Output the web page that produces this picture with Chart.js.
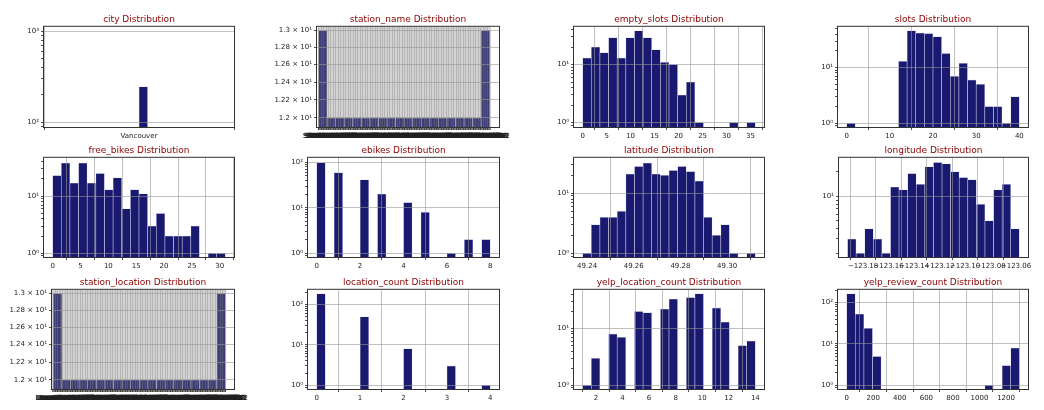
<!DOCTYPE html>
<html>
<head>
<meta charset="utf-8">
<script src="https://cdn.jsdelivr.net/npm/chart.js@4.4.1/dist/chart.umd.min.js"></script>
<style>
  body { margin: 0; background: #fff; }
  #wrap { position: relative; width: 1044px; height: 410px; overflow: hidden; background: #fff; }
  canvas { position: absolute; }
</style>
</head>
<body>
<div id="wrap"></div>
<script>
/* global Chart */
// histogram counts per bin (20 bins each)
const cityLabels = ["Vancouver"];
const cityRange = [-0.5, 0.5];
const cityCounts = [0,0,0,0,0,0,0,0,0,0,245,0,0,0,0,0,0,0,0,0];

const stationCount = 242;
const stationRange = [0, 241];
const stationNameCounts = [13,12,12,12,12,12,12,12,12,12,12,12,12,12,12,12,12,12,12,13];
const stationLocationCounts = [13,12,12,12,12,12,12,12,12,12,12,12,12,12,12,12,12,12,12,13];

const emptySlotsRange = [0, 36];
const emptySlotsCounts = [13,20,16,29,13,29,38,29,18,11,10,3,5,1,0,0,0,1,0,1];

const slotsRange = [0, 40];
const slotsCounts = [1,0,0,0,0,0,13,46,42,41,36,18,7,12,6,5,2,2,1,3];

const freeBikesRange = [0, 31];
const freeBikesCounts = [23,38,17,38,17,25,13,21,6,13,11,3,5,2,2,2,3,0,1,1];

const ebikesRange = [0, 8];
const ebikesCounts = [97,0,59,0,0,41,0,20,0,0,13,0,8,0,0,1,0,2,0,2];

const latitudeRange = [49.2381, 49.3121];
const latitudeCounts = [1,3,4,4,5,21,28,32,21,20,24,28,23,16,4,2,3,1,0,1];

const longitudeRange = [-123.1922, -123.0574];
const longitudeCounts = [3,2,4,3,2,13,12,19,14,23,26,25,20,17,16,8,5,12,14,4];

const locationCountRange = [0, 4];
const locationCountCounts = [181,0,0,0,0,49,0,0,0,0,8,0,0,0,0,3,0,0,0,1];

const yelpLocationRange = [1, 14];
const yelpLocationCounts = [1,3,0,8,7,0,20,19,0,22,33,0,35,41,0,23,13,0,5,6];

const yelpReviewRange = [0, 1300];
const yelpReviewCounts = [163,53,24,5,0,0,0,0,0,0,0,0,0,0,0,0,1,0,3,8];

// tick values
const emptySlotsTicks = [0, 5, 10, 15, 20, 25, 30, 35];
const slotsTicks = [0, 10, 20, 30, 40];
const freeBikesTicks = [0, 5, 10, 15, 20, 25, 30];
const ebikesTicks = [0, 2, 4, 6, 8];
const latitudeTicks = [49.24, 49.26, 49.28, 49.30];
const longitudeTicks = [-123.18, -123.16, -123.14, -123.12, -123.10, -123.08, -123.06];
const locationCountTicks = [0, 1, 2, 3, 4];
const yelpLocationTicks = [2, 4, 6, 8, 10, 12, 14];
const yelpReviewTicks = [0, 200, 400, 600, 800, 1000, 1200];
const stationYTicks = [12, 12.2, 12.4, 12.6, 12.8, 13];

// station names / locations are unreadable in the picture (overlapping labels)
const stationIdx = Array.from({ length: stationCount }, (_, i) => i);
const stationNameLabels = stationIdx.map((i) => "Station " + (i + 1));
const stationLocationLabels = stationIdx.map((i) => "Location " + (i + 1));

const BAR = "#191970";
const EDGE = "rgba(205,205,235,0.75)";
const GRID = "rgba(150,150,150,0.75)";
const FONT = "'DejaVu Sans', sans-serif";
const TITLE_H = 14;
const X_H = 20;

const wrap = document.getElementById("wrap");

function binPoints(range, counts) {
  const w = (range[1] - range[0]) / counts.length;
  return counts.map((c, i) => ({ x: range[0] + (i + 0.5) * w, y: c > 0 ? c : null }));
}

const SUP = { "0": "⁰", "1": "¹", "2": "²", "3": "³", "4": "⁴", "5": "⁵", "-": "⁻" };
function pow10Label(v) {
  const e = Math.round(Math.log10(v));
  return "10" + String(e).split("").map((ch) => SUP[ch]).join("");
}

function logTicks(min, max) {
  const out = [];
  for (let e = Math.floor(Math.log10(min)); e <= Math.ceil(Math.log10(max)); e++) {
    for (let m = 1; m <= 9; m++) {
      const v = m * Math.pow(10, e);
      if (v >= min && v <= max) out.push(v);
    }
  }
  return out;
}
function isDecade(v) {
  const l = Math.log10(v);
  return Math.abs(l - Math.round(l)) < 1e-9;
}

const frame = {
  id: "frame",
  afterDraw(chart) {
    const { ctx, chartArea: a } = chart;
    ctx.save();
    ctx.strokeStyle = "#333";
    ctx.lineWidth = 1;
    ctx.strokeRect(a.left - 0.5, a.top - 0.5, a.right - a.left + 1, a.bottom - a.top + 1);
    ctx.restore();
  },
};

// visible x axis (ticks, labels, grid)
function xAxis(p) {
  return {
    type: "linear",
    position: "bottom",
    min: p.xMin,
    max: p.xMax,
    offset: false,
    border: { display: false },
    grid: {
      color: p.xGrid || GRID,
      lineWidth: p.xGridWidth || 0.8,
      z: 1,
      tickColor: "#222",
      tickLength: 3,
    },
    ticks: {
      autoSkip: false,
      maxRotation: 0,
      minRotation: 0,
      padding: 2,
      color: "#222",
      font: { family: FONT, size: 7 },
      callback: (v, i) => p.xLabel(v, i),
    },
    afterBuildTicks: (s) => {
      s.ticks = p.xTicks.map((v) => ({ value: v }));
    },
    afterFit: (s) => {
      s.height = X_H;
      s.paddingLeft = 0;
      s.paddingRight = 0;
    },
  };
}

function panel(p) {
  const c = document.createElement("canvas");
  const w = p.yW + (p.R - p.L) + p.padR;
  const h = TITLE_H + (p.B - p.T) + X_H;
  c.width = w;
  c.height = h;
  c.style.left = p.L - p.yW + "px";
  c.style.top = p.T - TITLE_H + "px";
  wrap.appendChild(c);

  const yTicks = p.yTicks || logTicks(p.yMin, p.yMax);
  const yMajor = p.yTicks ? () => true : isDecade;
  const yLabel = p.yLabel || ((v) => (isDecade(v) ? pow10Label(v) : ""));

  const scales = {};
  if (p.dense) {
    // hidden data axis so bar widths follow the bins, dense ticks go on x2
    scales.x = {
      type: "linear",
      display: false,
      min: p.xMin,
      max: p.xMax,
      offset: false,
      afterBuildTicks: (s) => {
        s.ticks = [{ value: p.xMin }];
      },
    };
    scales.x2 = xAxis(p);
  } else {
    scales.x = xAxis(p);
  }
  scales.y = {
    type: "logarithmic",
    min: p.yMin,
    max: p.yMax,
    border: { display: false },
    grid: {
      z: 1,
      lineWidth: 0.8,
      tickLength: 3,
      tickColor: "#222",
      color: (ctx) => (ctx.tick && yMajor(ctx.tick.value) ? GRID : "rgba(0,0,0,0)"),
    },
    ticks: {
      autoSkip: false,
      padding: 2,
      color: "#222",
      font: { family: FONT, size: 7 },
      callback: (v) => yLabel(v),
    },
    afterBuildTicks: (s) => {
      s.ticks = yTicks.map((v) => ({ value: v }));
    },
    afterFit: (s) => {
      s.width = p.yW;
      s.paddingTop = 0;
      s.paddingBottom = 0;
    },
  };

  new Chart(c, {
    type: "bar",
    data: {
      datasets: [
        {
          data: binPoints(p.range, p.counts),
          backgroundColor: BAR,
          borderColor: EDGE,
          borderWidth: 0.6,
          barPercentage: 1,
          categoryPercentage: 1,
        },
      ],
    },
    options: {
      responsive: false,
      animation: false,
      devicePixelRatio: 1,
      layout: { padding: { left: 0, top: 0, right: p.padR, bottom: 0 } },
      plugins: {
        legend: { display: false },
        tooltip: { enabled: false },
        title: {
          display: true,
          text: p.title,
          color: "#8b0000",
          fullSize: false,
          font: { family: FONT, size: 9, weight: "normal", lineHeight: 1.2 },
          padding: { top: 0, bottom: 2 },
        },
      },
      scales: scales,
    },
    plugins: [frame],
  });
}

const stationYLabel = (v) => parseFloat((v / 10).toFixed(3)) + " × 10¹";
const num = (d) => (v) => v.toFixed(d);
const STATION_GRID = "rgba(130,130,130,0.6)";

// row 1
panel({ title: "city Distribution", L: 44, R: 234, T: 28, B: 127, yW: 40, padR: 20,
  range: cityRange, counts: cityCounts, xMin: -0.55, xMax: 0.55, xTicks: [0],
  xLabel: () => cityLabels[0], yMin: 88.7, yMax: 1117 });
panel({ title: "station_name Distribution", L: 317, R: 499, T: 28, B: 127, yW: 70, padR: 30,
  range: stationRange, counts: stationNameCounts, xMin: -2.2, xMax: 254, xTicks: stationIdx,
  dense: true, xGrid: STATION_GRID, xGridWidth: 0.6,
  xLabel: (v) => stationNameLabels[v], yMin: 11.95, yMax: 13.045, yTicks: stationYTicks, yLabel: stationYLabel });
panel({ title: "empty_slots Distribution", L: 574, R: 764, T: 28, B: 127, yW: 40, padR: 12,
  range: emptySlotsRange, counts: emptySlotsCounts, xMin: -1.8, xMax: 37.8, xTicks: emptySlotsTicks,
  xLabel: num(0), yMin: 0.84, yMax: 44.6 });
panel({ title: "slots Distribution", L: 838, R: 1028, T: 28, B: 127, yW: 40, padR: 14,
  range: slotsRange, counts: slotsCounts, xMin: -2, xMax: 42, xTicks: slotsTicks,
  xLabel: num(0), yMin: 0.857, yMax: 54 });

// row 2
panel({ title: "free_bikes Distribution", L: 44, R: 234, T: 159, B: 257, yW: 40, padR: 12,
  range: freeBikesRange, counts: freeBikesCounts, xMin: -1.55, xMax: 32.55, xTicks: freeBikesTicks,
  xLabel: num(0), yMin: 0.86, yMax: 47 });
panel({ title: "ebikes Distribution", L: 308, R: 499, T: 159, B: 257, yW: 40, padR: 12,
  range: ebikesRange, counts: ebikesCounts, xMin: -0.4, xMax: 8.4, xTicks: ebikesTicks,
  xLabel: num(0), yMin: 0.83, yMax: 125 });
panel({ title: "latitude Distribution", L: 574, R: 764, T: 159, B: 257, yW: 40, padR: 16,
  range: latitudeRange, counts: latitudeCounts, xMin: 49.2344, xMax: 49.3158, xTicks: latitudeTicks,
  xLabel: num(2), yMin: 0.867, yMax: 38.9 });
panel({ title: "longitude Distribution", L: 839, R: 1028, T: 159, B: 257, yW: 40, padR: 16,
  range: longitudeRange, counts: longitudeCounts, xMin: -123.1989, xMax: -123.0506, xTicks: longitudeTicks,
  xLabel: (v) => "\u2212" + Math.abs(v).toFixed(2), yMin: 1.803, yMax: 29.6 });

// row 3
panel({ title: "station_location Distribution", L: 52, R: 234, T: 291, B: 389, yW: 52, padR: 30,
  range: stationRange, counts: stationLocationCounts, xMin: -1.8, xMax: 253, xTicks: stationIdx,
  dense: true, xGrid: STATION_GRID, xGridWidth: 0.6,
  xLabel: (v) => stationLocationLabels[v], yMin: 11.95, yMax: 13.045, yTicks: stationYTicks, yLabel: stationYLabel });
panel({ title: "location_count Distribution", L: 308, R: 499, T: 291, B: 389, yW: 40, padR: 12,
  range: locationCountRange, counts: locationCountCounts, xMin: -0.2, xMax: 4.2, xTicks: locationCountTicks,
  xLabel: num(0), yMin: 0.81, yMax: 227 });
panel({ title: "yelp_location_count Distribution", L: 574, R: 764, T: 291, B: 389, yW: 40, padR: 12,
  range: yelpLocationRange, counts: yelpLocationCounts, xMin: 0.35, xMax: 14.65, xTicks: yelpLocationTicks,
  xLabel: num(0), yMin: 0.86, yMax: 48 });
panel({ title: "yelp_review_count Distribution", L: 838, R: 1028, T: 291, B: 389, yW: 40, padR: 14,
  range: yelpReviewRange, counts: yelpReviewCounts, xMin: -65, xMax: 1365, xTicks: yelpReviewTicks,
  xLabel: num(0), yMin: 0.815, yMax: 204 });
</script>
</body>
</html>
